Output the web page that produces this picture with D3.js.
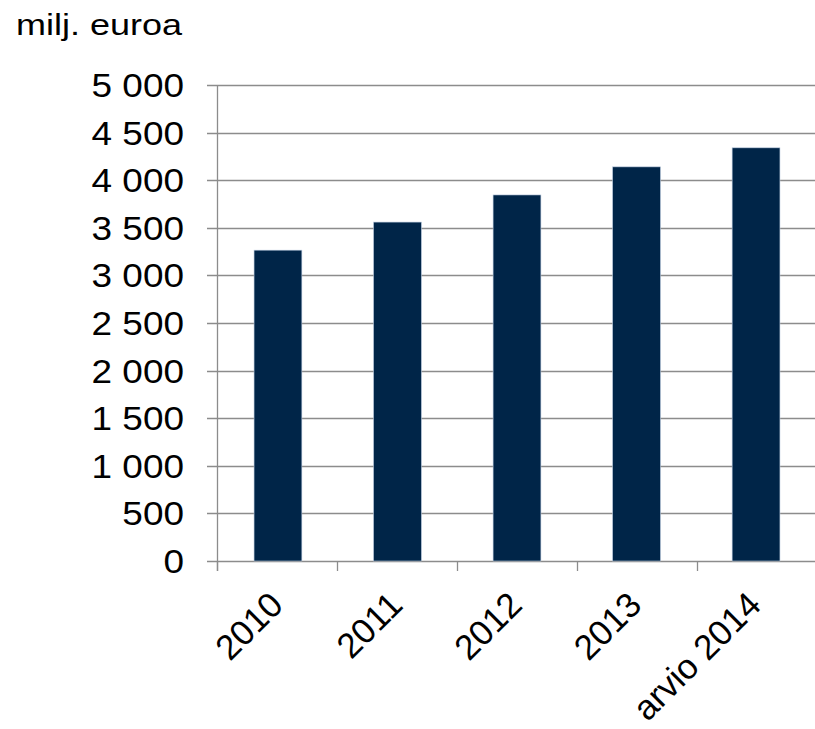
<!DOCTYPE html>
<html>
<head>
<meta charset="utf-8">
<script src="https://cdn.jsdelivr.net/npm/d3@7"></script>
<style>
  body { margin: 0; background: #fff; }
  svg text { font-family: "Liberation Sans", Arial, sans-serif; fill: #000; }
</style>
</head>
<body>
<svg id="chart" width="815" height="729"></svg>
<script>
const categories = ["2010", "2011", "2012", "2013", "arvio 2014"];
const values = [3265, 3560, 3845, 4140, 4340];
const yTicks = [0, 500, 1000, 1500, 2000, 2500, 3000, 3500, 4000, 4500, 5000];

const svg = d3.select("#chart");
const plotLeft = 217, plotRight = 817, plotTop = 85, plotBottom = 561;
// the original horizontal text looks slightly wider than tall
const stretch = 1.12;

const x = d3.scaleBand()
    .domain(categories)
    .range([plotLeft, plotRight])
    .paddingInner(0.6)
    .paddingOuter(0.31);

const y = d3.scaleLinear()
    .domain([0, 5000])
    .range([plotBottom, plotTop]);

const fmt = v => d3.format(",")(v).replace(/,/g, " ");

// gridlines
svg.append("g")
    .selectAll("line")
    .data(yTicks)
    .join("line")
    .attr("x1", plotLeft - 10)
    .attr("x2", plotRight)
    .attr("y1", d => Math.round(y(d)) + 0.5)
    .attr("y2", d => Math.round(y(d)) + 0.5)
    .style("stroke", "#8c8c8c")
    .style("stroke-width", 1.3);

// y axis line
svg.append("line")
    .attr("x1", plotLeft + 0.5).attr("x2", plotLeft + 0.5)
    .attr("y1", plotTop).attr("y2", plotBottom + 10)
    .style("stroke", "#8c8c8c")
    .style("stroke-width", 1.3);

// x ticks at category boundaries
const boundaries = d3.range(categories.length + 1)
    .map(i => plotLeft + i * (plotRight - plotLeft) / categories.length);
svg.append("g")
    .selectAll("line")
    .data(boundaries)
    .join("line")
    .attr("x1", d => Math.round(d) + 0.5)
    .attr("x2", d => Math.round(d) + 0.5)
    .attr("y1", plotBottom)
    .attr("y2", plotBottom + 10)
    .style("stroke", "#8c8c8c")
    .style("stroke-width", 1.3);

// bars
svg.append("g")
    .selectAll("rect")
    .data(values)
    .join("rect")
    .attr("x", (d, i) => x(categories[i]))
    .attr("width", x.bandwidth())
    .attr("y", d => y(d))
    .attr("height", d => y(0) - y(d))
    .style("fill", "#002548")
    .style("stroke", "#b8c8dc")
    .style("stroke-width", 0.6);

// y tick labels
svg.append("g")
    .selectAll("text")
    .data(yTicks)
    .join("text")
    .attr("transform", d => `translate(184,${y(d) + 12}) scale(${stretch},1)`)
    .attr("text-anchor", "end")
    .style("font-size", "33px")
    .text(fmt);

// x labels
svg.append("g")
    .selectAll("text")
    .data(categories)
    .join("text")
    .attr("transform", d => `translate(${x(d) + x.bandwidth() / 2 + 7},${plotBottom + 46}) rotate(-45)`)
    .attr("text-anchor", "end")
    .style("font-size", "35px")
    .text(d => d);

// unit label
svg.append("text")
    .attr("transform", `translate(16,35) scale(1.2,1)`)
    .style("font-size", "30px")
    .text("milj. euroa");
</script>
</body>
</html>
